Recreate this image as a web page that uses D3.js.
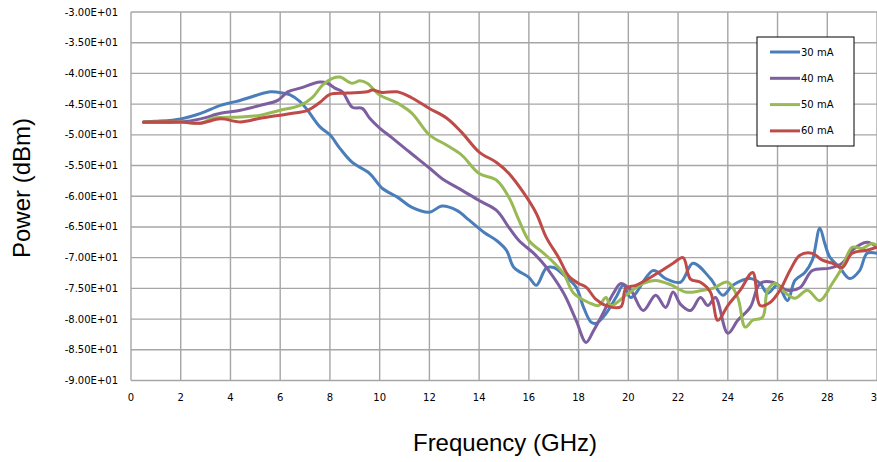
<!DOCTYPE html>
<html>
<head>
<meta charset="utf-8">
<script src="https://cdn.jsdelivr.net/npm/d3@7"></script>
<style>
    body { margin: 0; background: #fff; }
    .grid line { stroke: #a6a6a6; stroke-width: 1.4; }
    .tickLabel { font-family: "DejaVu Sans", Verdana, sans-serif; font-size: 10px; fill: #000; }
    .axisTitle { font-family: "Liberation Sans", Arial, sans-serif; font-size: 24px; fill: #000; }
    .legendText { font-family: "DejaVu Sans", Verdana, sans-serif; font-size: 10px; fill: #000; }
    .series { fill: none; stroke-width: 3; stroke-linejoin: round; stroke-linecap: round; }
</style>
</head>
<body>
<script>
//chart data, [frequency GHz, power dBm]
var ma30 = [[0.5,-47.9],[1.0,-47.8],[2.0,-47.4],[2.8,-46.5],[3.6,-45.2],[4.2,-44.6],[4.7,-44.0],[5.6,-43.0],[6.1,-43.2],[6.4,-43.5],[6.8,-44.6],[7.1,-46.0],[7.6,-48.7],[8.0,-50.0],[8.4,-52.2],[8.9,-54.5],[9.6,-56.3],[10.1,-58.7],[10.7,-60.1],[11.3,-61.8],[12.0,-62.6],[12.5,-61.6],[13.1,-62.3],[13.6,-63.9],[14.2,-65.9],[14.7,-67.2],[15.1,-68.8],[15.4,-71.6],[16.0,-73.2],[16.3,-74.5],[16.7,-71.7],[17.0,-71.6],[17.5,-73.2],[17.9,-74.8],[18.2,-78.1],[18.5,-80.5],[18.7,-80.7],[19.1,-79.1],[19.5,-76.5],[19.8,-74.5],[20.1,-76.5],[21.0,-72.1],[21.5,-73.4],[22.1,-74.0],[22.6,-70.9],[23.3,-73.4],[23.8,-76.1],[24.2,-74.5],[24.9,-73.4],[25.3,-74.2],[25.6,-75.8],[26.0,-74.5],[26.4,-77.0],[26.7,-73.7],[27.1,-72.4],[27.4,-70.4],[27.7,-65.2],[27.9,-67.7],[28.1,-69.9],[28.5,-71.6],[28.9,-73.4],[29.3,-72.1],[29.6,-69.3],[30.0,-69.3]];

var ma40 = [[0.5,-48.0],[2.0,-47.9],[2.8,-47.4],[3.6,-46.5],[4.4,-46.0],[5.2,-45.2],[5.9,-44.4],[6.3,-43.0],[6.8,-42.4],[7.6,-41.4],[7.9,-41.6],[8.2,-42.4],[8.5,-43.0],[8.9,-45.5],[9.3,-45.7],[9.6,-47.3],[10.0,-48.9],[10.5,-50.5],[11.2,-52.8],[12.0,-55.4],[12.5,-57.1],[13.3,-59.0],[14.0,-60.7],[14.7,-62.3],[15.2,-65.1],[15.6,-67.2],[16.2,-69.3],[16.5,-70.6],[16.8,-72.1],[17.4,-75.8],[17.9,-80.2],[18.3,-83.8],[18.6,-81.9],[18.9,-79.7],[19.4,-75.8],[19.7,-74.2],[20.1,-75.3],[20.6,-78.6],[21.1,-76.1],[21.5,-78.1],[21.8,-75.6],[22.1,-77.6],[22.5,-78.6],[22.9,-76.5],[23.2,-77.8],[23.5,-76.5],[24.0,-82.3],[24.4,-80.2],[24.9,-78.1],[25.3,-74.2],[25.8,-74.0],[26.4,-75.3],[26.9,-74.9],[27.4,-72.1],[28.1,-71.7],[28.6,-70.9],[29.0,-68.8],[29.6,-67.5],[30.0,-68.3]];

var ma50 = [[0.5,-47.9],[2.0,-47.9],[2.8,-48.1],[3.3,-47.3],[4.4,-47.1],[5.2,-46.8],[6.0,-46.0],[6.8,-45.2],[7.3,-43.9],[7.7,-41.9],[8.1,-40.8],[8.4,-40.6],[8.9,-41.6],[9.2,-41.2],[9.5,-41.6],[10.0,-43.5],[10.7,-44.8],[11.3,-46.5],[12.0,-50.0],[12.7,-51.7],[13.3,-53.3],[14.0,-56.3],[14.7,-57.4],[15.2,-60.2],[15.6,-63.9],[16.0,-67.2],[16.6,-69.3],[17.0,-70.8],[17.4,-72.6],[17.8,-75.8],[18.4,-77.3],[18.8,-77.8],[19.1,-76.5],[19.3,-77.8],[19.9,-76.1],[20.6,-74.2],[21.1,-73.7],[21.7,-74.4],[22.3,-75.6],[22.9,-75.4],[23.4,-75.0],[24.0,-74.0],[24.4,-76.5],[24.7,-81.3],[25.0,-80.2],[25.4,-79.7],[25.6,-75.3],[25.9,-74.2],[26.2,-75.3],[26.7,-76.6],[27.2,-75.3],[27.7,-77.0],[28.2,-74.2],[28.6,-71.6],[29.0,-68.3],[29.4,-68.5],[29.8,-67.7],[30.0,-68.0]];

var ma60 = [[0.5,-47.9],[2.0,-47.9],[2.8,-48.1],[3.6,-47.4],[4.4,-47.9],[5.2,-47.3],[6.0,-46.8],[6.5,-46.5],[7.1,-46.0],[7.6,-44.7],[8.0,-43.4],[8.7,-43.2],[9.5,-43.0],[9.7,-42.7],[10.1,-43.1],[10.7,-43.0],[11.3,-44.0],[12.0,-45.7],[12.7,-47.3],[13.3,-49.6],[14.0,-52.8],[14.7,-54.5],[15.2,-56.3],[15.8,-59.5],[16.3,-62.8],[16.7,-66.7],[17.2,-70.0],[17.6,-73.0],[18.0,-74.2],[18.3,-74.8],[18.7,-76.8],[19.1,-77.8],[19.7,-78.0],[19.9,-75.0],[20.3,-74.5],[20.9,-73.2],[21.3,-72.2],[21.8,-70.9],[22.2,-70.0],[22.5,-73.5],[22.9,-74.0],[23.3,-75.6],[23.6,-80.2],[24.0,-77.8],[24.5,-75.3],[25.0,-72.4],[25.3,-77.8],[25.7,-77.3],[26.1,-75.3],[26.5,-72.1],[26.9,-69.6],[27.4,-69.3],[27.8,-70.4],[28.2,-70.9],[28.6,-71.6],[29.0,-69.3],[29.6,-68.8],[30.0,-68.3]];

var seriesNames = ["30 mA", "40 mA", "50 mA", "60 mA"];
var seriesColors = ["#4a7ebb", "#7d5fa0", "#98b954", "#be4b48"];
var xTicks = [0, 2, 4, 6, 8, 10, 12, 14, 16, 18, 20, 22, 24, 26, 28, 30];
var yTicks = [-30, -35, -40, -45, -50, -55, -60, -65, -70, -75, -80, -85, -90];

(function(){

    var width = 877,
        height = 462;

    //plot frame edges in pixels
    var left = 131,
        right = 877,
        top = 12,
        bottom = 380.5;

    var svg = d3.select("body")
        .append("svg")
        .attr("width", width)
        .attr("height", height);

    var x = d3.scaleLinear().domain([0, 30]).range([left, right]);
    var y = d3.scaleLinear().domain([-90, -30]).range([bottom, top]);

    //grid lines
    var grid = svg.append("g").attr("class", "grid");
    grid.selectAll(".hLine")
        .data(yTicks)
        .enter()
        .append("line")
        .attr("x1", left)
        .attr("x2", right)
        .attr("y1", function(d){ return y(d); })
        .attr("y2", function(d){ return y(d); });
    grid.selectAll(".vLine")
        .data(xTicks)
        .enter()
        .append("line")
        .attr("x1", function(d){ return x(d); })
        .attr("x2", function(d){ return x(d); })
        .attr("y1", top)
        .attr("y2", bottom);

    //y tick labels in Excel style
    svg.selectAll(".yLabel")
        .data(yTicks)
        .enter()
        .append("text")
        .attr("class", "tickLabel")
        .attr("x", left - 13)
        .attr("y", function(d){ return y(d); })
        .attr("dy", "0.35em")
        .attr("text-anchor", "end")
        .text(function(d){ return (d / 10).toFixed(2) + "E+01"; });

    //x tick labels
    svg.selectAll(".xLabel")
        .data(xTicks)
        .enter()
        .append("text")
        .attr("class", "tickLabel")
        .attr("x", function(d){ return x(d); })
        .attr("y", bottom + 17)
        .attr("dy", "0.35em")
        .attr("text-anchor", "middle")
        .text(function(d){ return d; });

    //axis titles
    svg.append("text")
        .attr("class", "axisTitle")
        .attr("x", 505)
        .attr("y", 451)
        .attr("text-anchor", "middle")
        .text("Frequency (GHz)");
    svg.append("text")
        .attr("class", "axisTitle")
        .attr("transform", "translate(30,188) rotate(-90)")
        .attr("text-anchor", "middle")
        .text("Power (dBm)");

    //series lines
    var line = d3.line()
        .x(function(d){ return x(d[0]); })
        .y(function(d){ return y(d[1]); })
        .curve(d3.curveCatmullRom.alpha(0.5));

    var allSeries = [ma30, ma40, ma50, ma60];
    svg.selectAll(".series")
        .data(allSeries)
        .enter()
        .append("path")
        .attr("class", "series")
        .attr("stroke", function(d, i){ return seriesColors[i]; })
        .attr("d", line);

    //legend box
    var legend = svg.append("g").attr("transform", "translate(757,37)");
    legend.append("rect")
        .attr("width", 97)
        .attr("height", 109)
        .attr("fill", "#fff")
        .attr("stroke", "#000")
        .attr("stroke-width", 1);
    var items = legend.selectAll(".item")
        .data(seriesNames)
        .enter()
        .append("g")
        .attr("transform", function(d, i){ return "translate(0," + (15 + i * 26.3) + ")"; });
    items.append("line")
        .attr("x1", 13)
        .attr("x2", 43)
        .attr("stroke", function(d, i){ return seriesColors[i]; })
        .attr("stroke-width", 3);
    items.append("text")
        .attr("class", "legendText")
        .attr("x", 44)
        .attr("dy", "0.35em")
        .text(function(d){ return d; });

})();
</script>
</body>
</html>
